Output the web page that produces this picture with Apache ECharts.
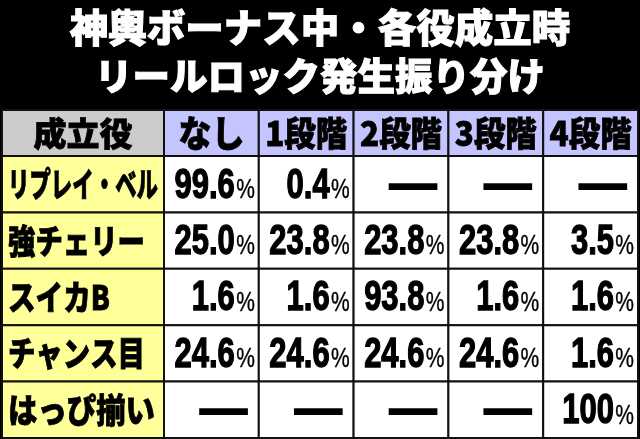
<!DOCTYPE html>
<html>
<head>
<meta charset="utf-8">
<style>html,body{margin:0;padding:0;background:#000}#chart{width:640px;height:439px}</style>
<script src="https://cdn.jsdelivr.net/npm/echarts@6/dist/echarts.min.js"></script>
</head>
<body>
<div id="chart"></div>
<script>
const titleLines = ['神輿ボーナス中・各役成立時', 'リールロック発生振り分け'];
const cornerLabel = '成立役';
const stages = ['なし', '1段階', '2段階', '3段階', '4段階'];
const roles = ['リプレイ・ベル', '強チェリー', 'スイカB', 'チャンス目', 'はっぴ揃い'];

// percent per stage, null = dash in the table
const replayBell = [99.6, 0.4, null, null, null];
const strongCherry = [25.0, 23.8, 23.8, 23.8, 3.5];
const suikaB = [1.6, 1.6, 93.8, 1.6, 1.6];
const chanceMe = [24.6, 24.6, 24.6, 24.6, 1.6];
const happiSoroi = [null, null, null, null, 100];
const rows = [replayBell, strongCherry, suikaB, chanceMe, happiSoroi];

const JP = '"Noto Sans CJK JP"';
const NUM = '"Liberation Sans"';
const LINE = '#111';
// squeezed widths of the yellow labels, the source uses a condensed face
const ROLE_WIDTHS = [150, 137, 102, 137, 147];

const measure = document.createElement('canvas').getContext('2d');
function fitScale(text, font, maxW, base) {
  measure.font = font;
  return Math.min(base, maxW / measure.measureText(text).width);
}

function cellRect(api, fill) {
  const [cx, cy] = api.coord([api.value(0), api.value(1)]);
  const [w, h] = api.size([1, 1]);
  return {
    box: { x: cx - w / 2, y: cy - h / 2, w, h, cx, cy },
    el: { type: 'rect', shape: { x: cx - w / 2, y: cy - h / 2, width: w, height: h },
          style: { fill, stroke: LINE, lineWidth: 2 } },
  };
}

function headerText(text, cx, cy, size, maxW) {
  const font = `900 ${size}px ${JP}`;
  return { type: 'text', x: cx, y: cy, scaleX: fitScale(text, font, maxW, 1), scaleY: 1,
           style: { text, font, fill: '#000', stroke: '#000', lineWidth: 0.8, align: 'center', verticalAlign: 'middle' } };
}

function renderCorner(params, api) {
  const { box, el } = cellRect(api, '#cccccc');
  return { type: 'group', children: [el, headerText(cornerLabel, box.cx, box.cy, 33, 100)] };
}

function renderStage(params, api) {
  const { box, el } = cellRect(api, '#c4c4ff');
  const label = stages[params.dataIndex];
  const size = params.dataIndex === 0 ? 36 : 34;
  return { type: 'group', children: [el, headerText(label, box.cx, box.cy, size, params.dataIndex === 0 ? 66 : 82)] };
}

function renderRole(params, api) {
  const { box, el } = cellRect(api, '#ffff99');
  const text = roles[params.dataIndex];
  const font = `900 34px ${JP}`;
  return { type: 'group', children: [el, {
    type: 'text', x: box.x + 6, y: box.cy,
    scaleX: fitScale(text, font, ROLE_WIDTHS[params.dataIndex], 1), scaleY: 1,
    style: { text, font, fill: '#000', stroke: '#000', lineWidth: 0.8, align: 'left', verticalAlign: 'middle' },
  }] };
}

function renderValue(params, api) {
  const { box, el } = cellRect(api, '#ffffff');
  const v = rows[api.value(1)][api.value(0)];
  const right = box.x + box.w;
  const children = [el];
  if (v === null) {
    children.push({ type: 'text', x: right - 9, y: box.cy - 2, scaleX: 1.25, scaleY: 1,
      style: { text: '—', font: `900 46px ${JP}`, fill: '#000', stroke: '#000', lineWidth: 1.5, align: 'right', verticalAlign: 'middle' } });
  } else {
    children.push({ type: 'text', x: right - 24, y: box.cy + 23, scaleX: 0.72, scaleY: 1,
      style: { text: v === 100 ? '100' : v.toFixed(1), font: `bold 43px ${NUM}`, fill: '#000', stroke: '#000', lineWidth: 1.4,
               align: 'right', verticalAlign: 'bottom' } });
    children.push({ type: 'text', x: right - 4, y: box.cy + 20, scaleX: 0.75, scaleY: 1,
      style: { text: '%', font: `28px ${NUM}`, fill: '#000', stroke: '#000', lineWidth: 0.4, align: 'right', verticalAlign: 'bottom' } });
  }
  return { type: 'group', children };
}

const xCats = n => Array.from({ length: n }, (_, i) => i);
const hiddenAxis = (gridIndex, data, inverse) => ({ type: 'category', gridIndex, data, inverse, show: false });

const valueCells = [];
rows.forEach((row, y) => row.forEach((_, x) => valueCells.push([x, y])));

const titleStyle = size => ({ color: '#fff', fontFamily: 'Noto Sans CJK JP', fontWeight: 900, fontSize: size,
                              textBorderColor: '#fff', textBorderWidth: 1 });

const chart = echarts.init(document.getElementById('chart'), null, { renderer: 'canvas' });
chart.setOption({
  animation: false,
  backgroundColor: '#000',
  title: [
    { text: titleLines[0], left: 'center', top: 3, textStyle: titleStyle(38.5) },
    { text: titleLines[1], left: 'center', top: 52, textStyle: titleStyle(37.5) },
  ],
  grid: [
    { left: 2, top: 110, width: 162, height: 46 },
    { left: 164, top: 110, width: 474, height: 46 },
    { left: 2, top: 156, width: 162, height: 282 },
    { left: 164, top: 156, width: 474, height: 282 },
  ],
  xAxis: [
    hiddenAxis(0, [cornerLabel]),
    hiddenAxis(1, stages),
    hiddenAxis(2, [cornerLabel]),
    hiddenAxis(3, stages),
  ],
  yAxis: [
    hiddenAxis(0, [cornerLabel], true),
    hiddenAxis(1, [cornerLabel], true),
    hiddenAxis(2, roles, true),
    hiddenAxis(3, roles, true),
  ],
  series: [
    { type: 'custom', xAxisIndex: 0, yAxisIndex: 0, renderItem: renderCorner, data: [[0, 0]] },
    { type: 'custom', xAxisIndex: 1, yAxisIndex: 1, renderItem: renderStage, data: xCats(5).map(x => [x, 0]) },
    { type: 'custom', xAxisIndex: 2, yAxisIndex: 2, renderItem: renderRole, data: xCats(5).map(y => [0, y]) },
    { type: 'custom', xAxisIndex: 3, yAxisIndex: 3, renderItem: renderValue, data: valueCells },
  ],
});
</script>
</body>
</html>
